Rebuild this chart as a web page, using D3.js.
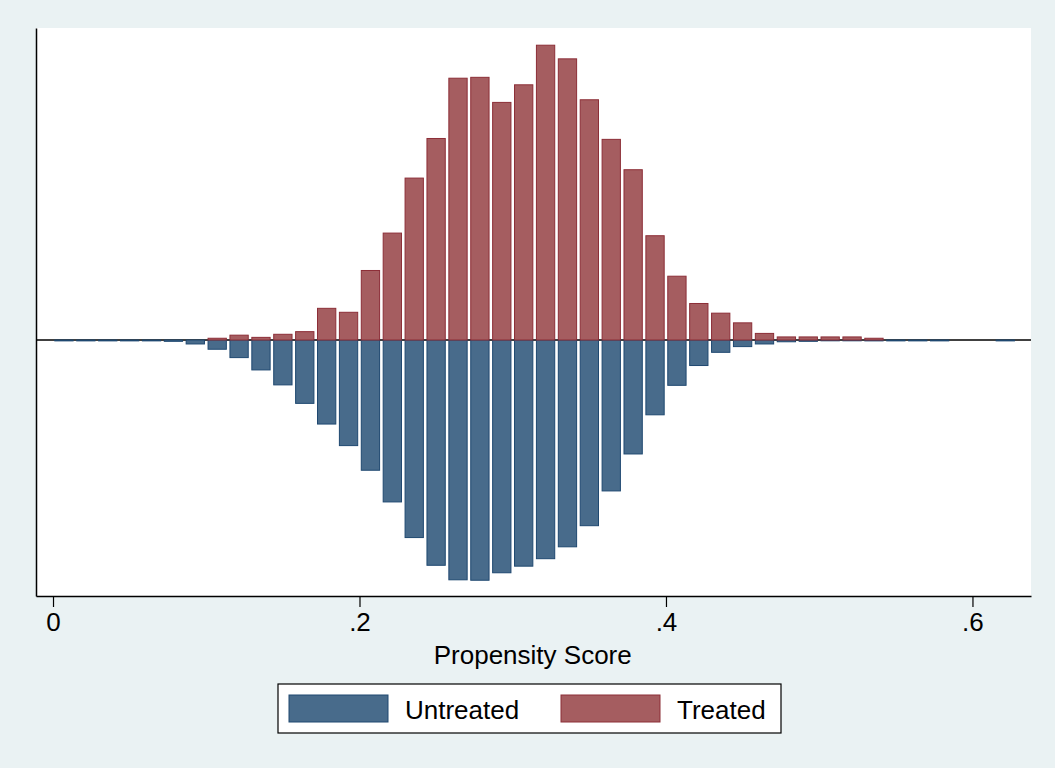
<!DOCTYPE html>
<html>
<head>
<meta charset="utf-8">
<script src="https://cdn.jsdelivr.net/npm/d3@7"></script>
<style>
  body { margin: 0; background: #eaf2f3; }
  svg { display: block; font-family: "Liberation Sans", Arial, sans-serif; }
</style>
</head>
<body>
<div id="chart"></div>
<script>
// histogram bins: width 1/70, starting at 0
const binWidth = 1 / 70;
const binStarts = d3.range(44).map(i => i * binWidth);

// densities
const treated = [
  0, 0, 0, 0, 0, 0, 0, 0.04, 0.11, 0.06,
  0.13, 0.19, 0.72, 0.63, 1.58, 2.43, 3.68, 4.58, 5.95, 5.97,
  5.40, 5.80, 6.70, 6.39, 5.46, 4.56, 3.87, 2.37, 1.45, 0.83,
  0.61, 0.39, 0.15, 0.07, 0.07, 0.07, 0.07, 0.04, 0, 0,
  0, 0, 0, 0
];
const untreated = [
  0.02, 0.02, 0.02, 0.02, 0.02, 0.03, 0.09, 0.21, 0.40, 0.68,
  1.02, 1.44, 1.91, 2.40, 2.96, 3.68, 4.49, 5.12, 5.45, 5.46,
  5.29, 5.14, 4.97, 4.70, 4.22, 3.43, 2.59, 1.70, 1.03, 0.58,
  0.28, 0.15, 0.09, 0.04, 0.03, 0.01, 0.01, 0.02, 0.02, 0.02,
  0.02, 0, 0, 0.02
];

const xTicks = [0, 0.2, 0.4, 0.6];
const legendLabels = ['Untreated', 'Treated'];

const colors = {
  untreated: { fill: '#486b8b', stroke: '#1f4870' },
  treated: { fill: '#a55d60', stroke: '#8c2e37' }
};

const W = 1055, H = 768;
const plot = { left: 36, right: 1031, top: 28, bottom: 596 };

const svg = d3.select('#chart').append('svg')
  .attr('width', W)
  .attr('height', H);

svg.append('rect')
  .attr('width', W).attr('height', H)
  .attr('fill', '#eaf2f3');

svg.append('rect')
  .attr('x', plot.left).attr('y', plot.top)
  .attr('width', plot.right - plot.left)
  .attr('height', plot.bottom - plot.top)
  .attr('fill', '#ffffff');

const x = d3.scaleLinear()
  .domain([-0.0111, 0.6382])
  .range([plot.left, plot.right]);

const y = d3.scaleLinear()
  .domain([-5.818, 7.091])
  .range([plot.bottom, plot.top]);

// zero line
svg.append('line')
  .attr('x1', plot.left).attr('x2', plot.right)
  .attr('y1', y(0)).attr('y2', y(0))
  .attr('stroke', '#000').attr('stroke-width', 1.5);

const pad = binWidth * 0.082;

// sign: +1 draws up from zero, -1 draws down (mirrored)
function drawBars(values, sign, c) {
  svg.append('g')
    .selectAll('rect')
    .data(values.map((v, i) => ({ start: binStarts[i], v })).filter(d => d.v > 0))
    .join('rect')
    .attr('x', d => x(d.start + pad))
    .attr('width', d => x(d.start + binWidth - pad) - x(d.start + pad))
    .attr('y', d => sign > 0 ? y(d.v) : y(0))
    .attr('height', d => Math.max(0.8, Math.abs(y(sign * d.v) - y(0))))
    .attr('fill', c.fill)
    .attr('stroke', c.stroke)
    .attr('stroke-width', 1);
}

drawBars(untreated, -1, colors.untreated);
drawBars(treated, 1, colors.treated);

// axes
const fmt = v => v === 0 ? '0' : d3.format('.1f')(v).replace(/^0/, '');

const xAxis = svg.append('g')
  .attr('transform', `translate(0,${plot.bottom})`)
  .call(d3.axisBottom(x).tickValues(xTicks).tickFormat(fmt).tickSize(11).tickSizeOuter(0).tickPadding(6));
xAxis.select('.domain').attr('stroke-width', 1.5);
xAxis.selectAll('.tick line').attr('stroke-width', 1.2);
xAxis.selectAll('text').attr('font-size', 26).attr('fill', '#000');

const yAxis = svg.append('g')
  .attr('transform', `translate(${plot.left},0)`)
  .call(d3.axisLeft(y).tickValues([]).tickSizeOuter(0));
yAxis.select('.domain').attr('stroke-width', 1.5);

svg.append('text')
  .attr('x', (x(0) + x(0.6)) / 2 + 20)
  .attr('y', 664)
  .attr('text-anchor', 'middle')
  .attr('font-size', 26)
  .text('Propensity Score');

// legend
const legend = svg.append('g');
legend.append('rect')
  .attr('x', 278).attr('y', 684)
  .attr('width', 503).attr('height', 49)
  .attr('fill', '#fff').attr('stroke', '#000').attr('stroke-width', 1.2);

const keys = [colors.untreated, colors.treated];
const keyX = [289, 561];
legendLabels.forEach((lab, i) => {
  legend.append('rect')
    .attr('x', keyX[i]).attr('y', 695)
    .attr('width', 99).attr('height', 27)
    .attr('fill', keys[i].fill).attr('stroke', keys[i].stroke);
  legend.append('text')
    .attr('x', keyX[i] + 116).attr('y', 719)
    .attr('font-size', 26)
    .text(lab);
});
</script>
</body>
</html>
